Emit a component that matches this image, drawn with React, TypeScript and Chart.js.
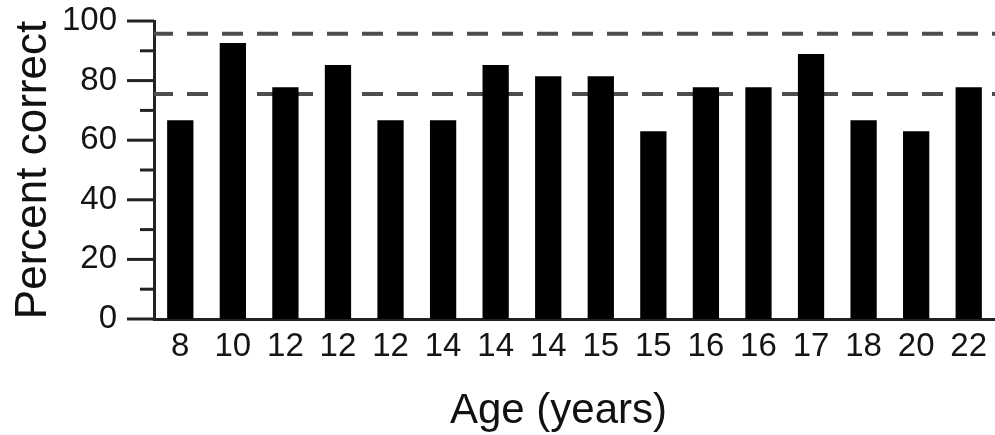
import React, { useEffect, useRef } from "react";
import { Chart, registerables } from "chart.js";

Chart.register(...registerables);

const ageLabels = ["8", "10", "12", "12", "12", "14", "14", "14", "15", "15", "16", "16", "17", "18", "20", "22"];
const percentCorrect = [66.7, 92.6, 77.8, 85.2, 66.7, 66.7, 85.2, 81.5, 81.5, 63.0, 77.8, 77.8, 88.9, 66.7, 63.0, 77.8];
const referenceLines = [95.7, 75.5];
const yTickValues = [0, 10, 20, 30, 40, 50, 60, 70, 80, 90, 100];
const yLabelValues = [0, 20, 40, 60, 80, 100];
const xTitle = "Age (years)";
const yTitle = "Percent correct";

const FONT = "'Liberation Sans', Arial, Helvetica, sans-serif";

const axisDecor = {
  id: "axisDecor",
  beforeDatasetsDraw(chart: any) {
    const { ctx, chartArea, scales } = chart;
    const y = scales.y;
    ctx.save();
    ctx.strokeStyle = "#4d4d4d";
    ctx.lineWidth = 4;
    ctx.setLineDash([21, 14]);
    ctx.lineDashOffset = 2;
    for (const v of referenceLines) {
      const py = y.getPixelForValue(v);
      ctx.beginPath();
      ctx.moveTo(chartArea.left, py);
      ctx.lineTo(chartArea.right, py);
      ctx.stroke();
    }
    ctx.restore();
  },
  afterDraw(chart: any) {
    const { ctx, scales, chartArea } = chart;
    const y = scales.y;
    const x = scales.x;
    ctx.save();
    ctx.strokeStyle = "#222";
    ctx.lineWidth = 3;
    ctx.setLineDash([]);
    for (const t of y.ticks) {
      const py = y.getPixelForValue(t.value);
      const len = yLabelValues.includes(t.value) ? 27 : 14;
      ctx.beginPath();
      ctx.moveTo(y.right - len, py);
      ctx.lineTo(y.right, py);
      ctx.stroke();
    }
    // x axis title
    ctx.fillStyle = "#111";
    ctx.font = `42px ${FONT}`;
    ctx.textAlign = "center";
    ctx.textBaseline = "alphabetic";
    ctx.fillText(xTitle, (chartArea.left + chartArea.right) / 2 - 16, x.bottom - 12);
    ctx.restore();
  },
};

export default function App() {
  const ref = useRef<HTMLCanvasElement | null>(null);
  useEffect(() => {
    if (!ref.current) return;
    const chart = new Chart(ref.current, {
      type: "bar",
      data: {
        labels: ageLabels,
        datasets: [
          {
            data: percentCorrect,
            backgroundColor: "#000",
            borderWidth: 0,
            barPercentage: 0.5,
            categoryPercentage: 1.0,
          },
        ],
      },
      options: {
        responsive: false,
        animation: false,
        devicePixelRatio: 1,
        layout: { padding: { top: 21, right: 0, left: 0, bottom: 0 } },
        plugins: { legend: { display: false }, tooltip: { enabled: false } },
        scales: {
          x: {
            grid: { display: false, drawTicks: false },
            border: { display: true, color: "#222", width: 3 },
            ticks: {
              color: "#141414",
              font: { family: FONT, size: 33 },
              padding: 8,
              maxRotation: 0,
              autoSkip: false,
            },
            title: { display: false, text: xTitle },
            afterFit(scale: any) {
              scale.height = 116;
              scale.paddingLeft = 0;
              scale.paddingRight = 0;
            },
          },
          y: {
            min: 0,
            max: 100,
            grid: { display: false, drawTicks: false },
            border: { display: true, color: "#222", width: 3 },
            afterBuildTicks(scale: any) {
              scale.ticks = yTickValues.map((v) => ({ value: v }));
            },
            ticks: {
              color: "#141414",
              font: { family: FONT, size: 33 },
              padding: 37,
              autoSkip: false,
              callback: (v: any) => (yLabelValues.includes(Number(v)) ? String(v) : ""),
            },
            title: {
              display: true,
              text: yTitle,
              color: "#111",
              font: { family: FONT, size: 44 },
              padding: { top: 7, bottom: 0 },
            },
            afterFit(scale: any) {
              scale.width = 154;
              scale.paddingTop = 0;
              scale.paddingBottom = 0;
            },
          },
        },
      },
      plugins: [axisDecor],
    });
    return () => chart.destroy();
  }, []);
  return (
    <div style={{ position: "fixed", left: 0, top: 0, width: 995, height: 435, background: "#fff" }}>
      <canvas ref={ref} width={995} height={435} style={{ display: "block" }} />
    </div>
  );
}
